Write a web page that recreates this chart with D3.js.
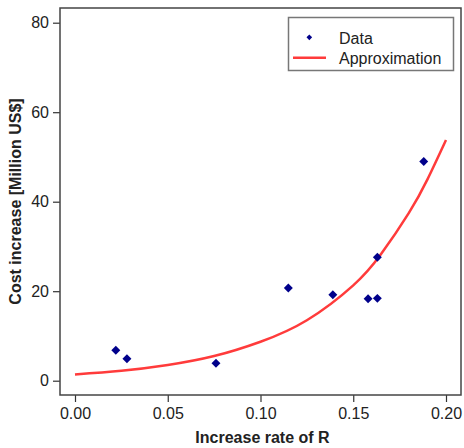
<!DOCTYPE html>
<html>
<head>
<meta charset="utf-8">
<script src="https://cdn.jsdelivr.net/npm/d3@7"></script>
<style>
  html, body { margin: 0; padding: 0; background: #fff; }
  svg { display: block; font-family: "Liberation Sans", Arial, Helvetica, sans-serif; }
</style>
</head>
<body>
<div id="chart"></div>
<script>
// measured points
const dataX = [0.022, 0.028, 0.076, 0.115, 0.139, 0.158, 0.163, 0.163, 0.188];
const dataY = [6.8, 4.9, 3.9, 20.7, 19.2, 18.3, 18.4, 27.6, 49.0];

// approximation curve
const curveX = [0.000, 0.025, 0.050, 0.075, 0.100, 0.125, 0.150, 0.165, 0.180, 0.190, 0.200];
const curveY = [1.4, 2.2, 3.5, 5.5, 8.7, 13.5, 21.3, 28.3, 37.5, 45.0, 53.8];

const xTicks = [0, 0.05, 0.10, 0.15, 0.20];
const yTicks = [0, 20, 40, 60, 80];

const width = 464, height = 448;
const box = { left: 60, top: 8, right: 461, bottom: 395 };

const svg = d3.select("#chart").append("svg")
    .attr("width", width)
    .attr("height", height);

const x = d3.scaleLinear().domain([0, 0.2]).range([75, 446]);
const y = d3.scaleLinear().domain([0, 80]).range([380.7, 22.7]);

// axes
const gx = svg.append("g")
    .attr("transform", `translate(0,${box.bottom})`)
    .call(d3.axisBottom(x).tickValues(xTicks).tickFormat(d3.format(".2f")).tickSize(7).tickPadding(6));
const gy = svg.append("g")
    .attr("transform", `translate(${box.left},0)`)
    .call(d3.axisLeft(y).tickValues(yTicks).tickSize(7).tickPadding(4));

[gx, gy].forEach(g => {
    g.select(".domain").remove();
    g.selectAll(".tick line").attr("stroke", "#333").attr("stroke-width", 1.2);
    g.selectAll(".tick text")
        .attr("fill", "#222")
        .style("font-size", "16px")
        .style("font-family", "'Liberation Sans', Arial, sans-serif");
});

// plot frame
svg.append("rect")
    .attr("x", box.left)
    .attr("y", box.top)
    .attr("width", box.right - box.left)
    .attr("height", box.bottom - box.top)
    .attr("fill", "none")
    .attr("stroke", "#444")
    .attr("stroke-width", 1.5);

// approximation line
const line = d3.line()
    .x(d => x(d[0]))
    .y(d => y(d[1]))
    .curve(d3.curveNatural);

svg.append("path")
    .datum(curveX.map((v, i) => [v, curveY[i]]))
    .attr("fill", "none")
    .attr("stroke", "#ff3b3b")
    .attr("stroke-width", 2.5)
    .attr("d", line);

// data points (diamonds)
const diamond = d3.symbol().type(d3.symbolSquare).size(40);
svg.selectAll("path.pt")
    .data(dataX.map((v, i) => [v, dataY[i]]))
    .enter()
    .append("path")
    .attr("class", "pt")
    .attr("d", diamond)
    .attr("transform", d => `translate(${x(d[0])},${y(d[1])}) rotate(45)`)
    .attr("fill", "#00008b");

// legend
const lg = svg.append("g");
lg.append("rect")
    .attr("x", 288.5)
    .attr("y", 17.5)
    .attr("width", 165)
    .attr("height", 53)
    .attr("fill", "#fff")
    .attr("stroke", "#777")
    .attr("stroke-width", 1.5);
lg.append("path")
    .attr("d", d3.symbol().type(d3.symbolSquare).size(16))
    .attr("transform", "translate(309.3,37.3) rotate(45)")
    .attr("fill", "#00008b");
lg.append("line")
    .attr("x1", 293).attr("x2", 326)
    .attr("y1", 57.7).attr("y2", 57.7)
    .attr("stroke", "#ff3b3b")
    .attr("stroke-width", 2.5);
lg.append("text")
    .attr("x", 339).attr("y", 44)
    .attr("font-size", "16px")
    .attr("fill", "#222")
    .text("Data");
lg.append("text")
    .attr("x", 339).attr("y", 64)
    .attr("font-size", "16px")
    .attr("fill", "#222")
    .text("Approximation");

// axis titles
svg.append("text")
    .attr("x", (box.left + box.right) / 2 + 2)
    .attr("y", 443)
    .attr("text-anchor", "middle")
    .attr("font-size", "16px")
    .attr("font-weight", "bold")
    .attr("fill", "#222")
    .text("Increase rate of R");

svg.append("text")
    .attr("transform", "rotate(-90)")
    .attr("x", -201.5)
    .attr("y", 21)
    .attr("text-anchor", "middle")
    .attr("font-size", "16px")
    .attr("font-weight", "bold")
    .attr("fill", "#222")
    .text("Cost increase [Million US$]");
</script>
</body>
</html>
